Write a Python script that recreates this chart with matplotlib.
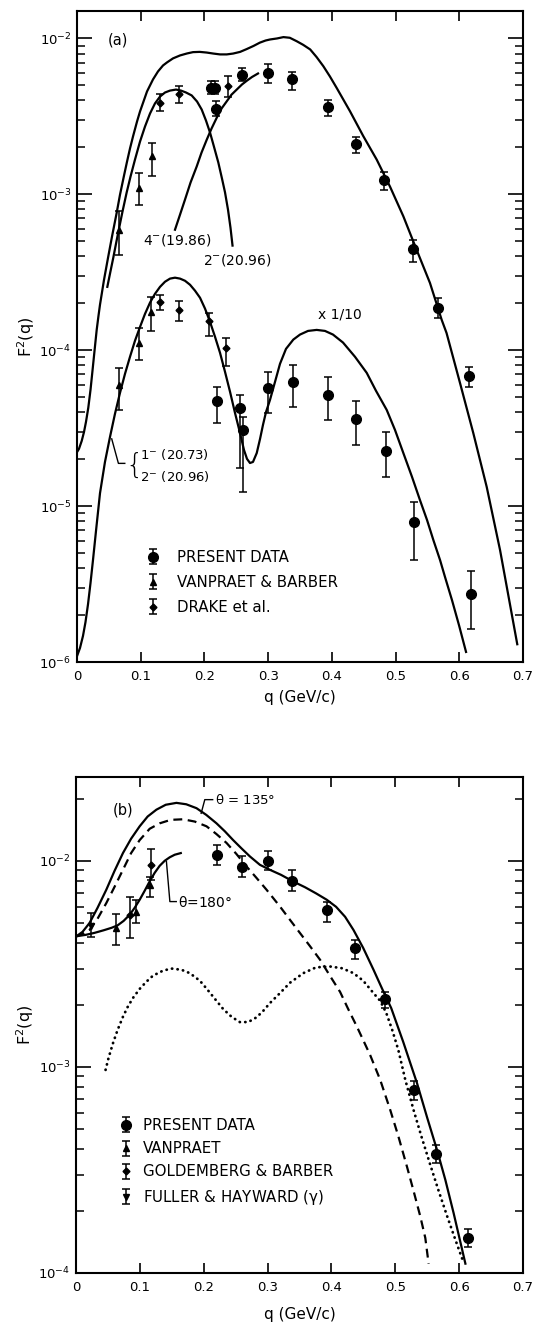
import matplotlib
matplotlib.use("Agg")
import matplotlib.pyplot as plt
import numpy as np

plt.rcParams['font.family'] = ['DejaVu Sans']
plt.rcParams['mathtext.default'] = 'regular'
plt.rcParams['font.size'] = 9.5

# ---------------- panel (a) data ----------------
# present data, upper set
a_pd_q = [0.211, 0.2166, 0.218, 0.2585, 0.300, 0.338, 0.3935, 0.4375, 0.482, 0.528, 0.567, 0.6158]
a_pd_v = [4.82e-3, 4.82e-3, 3.54e-3, 5.87e-3, 6.02e-3, 5.46e-3, 3.62e-3, 2.11e-3, 1.24e-3, 4.45e-4, 1.86e-4, 6.85e-5]
a_pd_hi = [5.32e-3, 5.32e-3, 3.95e-3, 6.49e-3, 6.81e-3, 6.08e-3, 4.02e-3, 2.34e-3, 1.40e-3, 5.1e-4, 2.17e-4, 7.8e-5]
a_pd_lo = [4.37e-3, 4.37e-3, 3.17e-3, 5.32e-3, 5.19e-3, 4.70e-3, 3.20e-3, 1.83e-3, 1.06e-3, 3.7e-4, 1.61e-4, 5.8e-5]
# present data, lower set (x 1/10)
a_pd2_q = [0.219, 0.2558, 0.260, 0.3003, 0.3395, 0.3945, 0.4379, 0.485, 0.5295, 0.618]
a_pd2_v = [4.7e-5, 4.25e-5, 3.08e-5, 5.7e-5, 6.24e-5, 5.17e-5, 3.62e-5, 2.27e-5, 7.87e-6, 2.75e-6]
a_pd2_hi = [5.85e-5, 5.18e-5, 3.75e-5, 7.3e-5, 8.05e-5, 6.7e-5, 4.73e-5, 2.97e-5, 1.07e-5, 3.83e-6]
a_pd2_lo = [3.4e-5, 1.75e-5, 1.24e-5, 3.95e-5, 4.3e-5, 3.57e-5, 2.47e-5, 1.53e-5, 4.5e-6, 1.62e-6]
# Vanpraet & Barber (triangles)
a_vb_q = [0.066, 0.098, 0.117, 0.0664, 0.098, 0.116]
a_vb_v = [5.93e-4, 1.1e-3, 1.76e-3, 6.0e-5, 1.11e-4, 1.77e-4]
a_vb_hi = [7.78e-4, 1.37e-3, 2.14e-3, 7.67e-5, 1.39e-4, 2.21e-4]
a_vb_lo = [4.1e-4, 8.6e-4, 1.31e-3, 4.14e-5, 8.7e-5, 1.32e-4]
# Drake et al. (diamonds)
a_dr_q = [0.131, 0.160, 0.2365, 0.131, 0.160, 0.207, 0.2333]
a_dr_v = [3.86e-3, 4.37e-3, 4.94e-3, 2.03e-4, 1.82e-4, 1.53e-4, 1.03e-4]
a_dr_hi = [4.37e-3, 4.94e-3, 5.73e-3, 2.27e-4, 2.07e-4, 1.73e-4, 1.19e-4]
a_dr_lo = [3.41e-3, 3.86e-3, 4.23e-3, 1.8e-4, 1.53e-4, 1.23e-4, 7.9e-5]

# curves panel (a)
a_sum_q = [0.0, 0.0031, 0.0074, 0.011, 0.0141, 0.0177, 0.0212, 0.0243, 0.0275, 0.0309, 0.0337, 0.0361,
           0.0424, 0.0487, 0.0549, 0.0623, 0.0675, 0.0738, 0.0785, 0.0832, 0.0879, 0.0942, 0.0989, 0.1099,
           0.1193, 0.1271, 0.135, 0.1413, 0.1507, 0.1617, 0.1726, 0.1821, 0.1926, 0.2035, 0.214, 0.2245,
           0.235, 0.245, 0.256, 0.2664, 0.277, 0.287, 0.296, 0.303, 0.314, 0.324, 0.334, 0.3448, 0.355,
           0.366, 0.376, 0.3866, 0.397, 0.4075, 0.4285, 0.4494, 0.4704, 0.4913, 0.5122, 0.533, 0.554,
           0.5723, 0.580, 0.6012, 0.622, 0.643, 0.664, 0.691]
a_sum_v = [2.22e-5, 2.33e-5, 2.62e-5, 2.99e-5, 3.47e-5, 4.27e-5, 5.57e-5, 7.38e-5, 9.91e-5, 1.35e-4, 1.66e-4,
           1.96e-4, 2.83e-4, 3.92e-4, 5.35e-4, 7.62e-4, 9.95e-4, 1.32e-3, 1.62e-3, 1.97e-3, 2.35e-3, 2.93e-3,
           3.4e-3, 4.57e-3, 5.46e-3, 6.14e-3, 6.71e-3, 7.02e-3, 7.45e-3, 7.78e-3, 8.01e-3, 8.17e-3, 8.2e-3,
           8.12e-3, 8.0e-3, 7.9e-3, 7.9e-3, 8.0e-3, 8.2e-3, 8.55e-3, 8.95e-3, 9.4e-3, 9.7e-3, 9.85e-3, 1.0e-2,
           1.02e-2, 1.01e-2, 9.6e-3, 9.1e-3, 8.5e-3, 7.6e-3, 6.64e-3, 5.7e-3, 4.82e-3, 3.41e-3, 2.36e-3,
           1.67e-3, 1.12e-3, 7.23e-4, 4.41e-4, 2.7e-4, 1.57e-4, 1.29e-4, 6.15e-5, 2.94e-5, 1.33e-5, 5.22e-6,
           1.3e-6]
a_2m_q = [0.0476, 0.0518, 0.057, 0.0612, 0.0659, 0.0714, 0.078, 0.084, 0.091, 0.0989, 0.1067, 0.1146,
          0.1224, 0.1303, 0.1381, 0.146, 0.1554, 0.1632, 0.1711, 0.18, 0.1884, 0.1957, 0.2025, 0.2088,
          0.215, 0.2218, 0.2276, 0.2323, 0.237, 0.2409, 0.2441]
a_2m_v = [2.55e-4, 3.1e-4, 3.93e-4, 4.82e-4, 6.02e-4, 7.75e-4, 1.03e-3, 1.3e-3, 1.67e-3, 2.18e-3, 2.72e-3,
          3.3e-3, 3.83e-3, 4.24e-3, 4.5e-3, 4.63e-3, 4.7e-3, 4.63e-3, 4.5e-3, 4.31e-3, 3.94e-3, 3.5e-3,
          2.97e-3, 2.49e-3, 2.02e-3, 1.6e-3, 1.26e-3, 1.03e-3, 7.97e-4, 6.11e-4, 4.69e-4]
a_4m_q = [0.1538, 0.1617, 0.1695, 0.1782, 0.1879, 0.1954, 0.2036, 0.2111, 0.2193, 0.2268, 0.235, 0.2425,
          0.2507, 0.259, 0.2669, 0.2747, 0.2841]
a_4m_v = [5.93e-4, 7.41e-4, 9.25e-4, 1.19e-3, 1.51e-3, 1.85e-3, 2.24e-3, 2.64e-3, 3.1e-3, 3.55e-3, 3.95e-3,
          4.36e-3, 4.7e-3, 5.07e-3, 5.37e-3, 5.66e-3, 5.96e-3]
a_low_q = [0.0, 0.0047, 0.0094, 0.0133, 0.0173, 0.0212, 0.0251, 0.0298, 0.0361, 0.0439, 0.0518, 0.0596,
           0.0675, 0.0753, 0.0832, 0.091, 0.0989, 0.1067, 0.1146, 0.1224, 0.1303, 0.1381, 0.146, 0.1538,
           0.1617, 0.1695, 0.1774, 0.1852, 0.1931, 0.2009, 0.2088, 0.2166, 0.2245, 0.2323, 0.2402, 0.248,
           0.2558, 0.2621, 0.2668, 0.2715, 0.2762, 0.2821, 0.2873, 0.2919, 0.2967, 0.3029, 0.3108, 0.3186,
           0.328, 0.3395, 0.35, 0.3626, 0.3762, 0.3892, 0.4018, 0.4175, 0.4363, 0.4547, 0.4693, 0.4861,
           0.4991, 0.5122, 0.5258, 0.5384, 0.5494, 0.5593, 0.5698, 0.5776, 0.5886, 0.5996, 0.6106]
a_low_v = [1.09e-6, 1.23e-6, 1.47e-6, 1.8e-6, 2.35e-6, 3.21e-6, 4.51e-6, 6.92e-6, 1.21e-5, 1.92e-5, 2.78e-5,
           3.91e-5, 5.33e-5, 7.05e-5, 9.08e-5, 1.15e-4, 1.41e-4, 1.71e-4, 2.02e-4, 2.3e-4, 2.55e-4, 2.75e-4,
           2.88e-4, 2.92e-4, 2.88e-4, 2.79e-4, 2.63e-4, 2.41e-4, 2.17e-4, 1.85e-4, 1.52e-4, 1.22e-4, 9.62e-5,
           7.27e-5, 5.41e-5, 3.96e-5, 2.95e-5, 2.29e-5, 2.01e-5, 1.89e-5, 1.92e-5, 2.19e-5, 2.7e-5, 3.32e-5,
           4.02e-5, 4.8e-5, 6.27e-5, 8.18e-5, 1.02e-4, 1.17e-4, 1.26e-4, 1.33e-4, 1.35e-4, 1.33e-4, 1.26e-4,
           1.12e-4, 9.08e-5, 7.16e-5, 5.49e-5, 4.14e-5, 3.08e-5, 2.19e-5, 1.54e-5, 1.09e-5, 8.14e-6, 6.06e-6,
           4.51e-6, 3.51e-6, 2.49e-6, 1.72e-6, 1.16e-6]

# ---------------- panel (b) data ----------------
b_pd_q = [0.221, 0.2593, 0.301, 0.3387, 0.3937, 0.437, 0.4842, 0.5287, 0.5643, 0.6135]
b_pd_v = [1.07e-2, 9.38e-3, 1.0e-2, 7.94e-3, 5.78e-3, 3.77e-3, 2.13e-3, 7.73e-4, 3.79e-4, 1.48e-4]
b_pd_hi = [1.196e-2, 1.05e-2, 1.11e-2, 9.04e-3, 6.34e-3, 4.14e-3, 2.32e-3, 8.52e-4, 4.18e-4, 1.64e-4]
b_pd_lo = [9.56e-3, 8.39e-3, 9.04e-3, 7.1e-3, 5.02e-3, 3.34e-3, 1.93e-3, 6.9e-4, 3.4e-4, 1.33e-4]
b_vp_q = [0.063, 0.0945, 0.1154]
b_vp_v = [4.71e-3, 5.67e-3, 7.65e-3]
b_vp_hi = [5.53e-3, 6.46e-3, 8.33e-3]
b_vp_lo = [3.91e-3, 4.98e-3, 6.71e-3]
b_gb_q = [0.085, 0.117]
b_gb_v = [5.47e-3, 9.56e-3]
b_gb_hi = [6.71e-3, 1.14e-2]
b_gb_lo = [4.22e-3, 8.09e-3]
b_fh_q = [0.0239]
b_fh_v = [4.8e-3]
b_fh_hi = [5.61e-3]
b_fh_lo = [4.29e-3]

b_135_q = [0.0, 0.0102, 0.0212, 0.0337, 0.0474, 0.0604, 0.0735, 0.0863, 0.0997, 0.1122, 0.1259, 0.1405,
           0.1573, 0.1727, 0.1887, 0.204, 0.22, 0.2331, 0.2461, 0.259, 0.2723, 0.288, 0.3037, 0.321, 0.3403,
           0.3587, 0.3759, 0.3927, 0.4073, 0.4214, 0.4345, 0.4497, 0.4659, 0.4795, 0.4936, 0.5125, 0.534,
           0.5501, 0.5654, 0.5784, 0.5914, 0.6004, 0.6098]
b_135_v = [4.29e-3, 4.52e-3, 4.99e-3, 5.91e-3, 7.23e-3, 8.94e-3, 1.09e-2, 1.28e-2, 1.47e-2, 1.64e-2, 1.77e-2,
           1.87e-2, 1.91e-2, 1.88e-2, 1.8e-2, 1.67e-2, 1.52e-2, 1.39e-2, 1.26e-2, 1.15e-2, 1.05e-2, 9.56e-3,
           9.04e-3, 8.55e-3, 7.93e-3, 7.44e-3, 6.95e-3, 6.47e-3, 5.98e-3, 5.35e-3, 4.62e-3, 3.78e-3, 2.96e-3,
           2.39e-3, 1.93e-3, 1.32e-3, 8.34e-4, 5.65e-4, 3.95e-4, 2.83e-4, 1.95e-4, 1.48e-4, 1.11e-4]
b_dash_q = [0.0, 0.0102, 0.0212, 0.0337, 0.0474, 0.0604, 0.0735, 0.0863, 0.0997, 0.1154, 0.1311, 0.1483,
            0.1676, 0.186, 0.2044, 0.2197, 0.2358, 0.2511, 0.2671, 0.2825, 0.2985, 0.3194, 0.3351, 0.3508,
            0.3665, 0.3822, 0.3979, 0.4136, 0.4262, 0.4398, 0.4497, 0.4607, 0.4764, 0.4921, 0.5047, 0.5183,
            0.5282, 0.5392, 0.547, 0.5522]
b_dash_v = [4.29e-3, 4.42e-3, 4.62e-3, 5.23e-3, 6.23e-3, 7.48e-3, 9.04e-3, 1.09e-2, 1.26e-2, 1.43e-2, 1.52e-2,
            1.58e-2, 1.59e-2, 1.55e-2, 1.47e-2, 1.35e-2, 1.22e-2, 1.08e-2, 9.38e-3, 8.27e-3, 7.23e-3, 6.0e-3,
            5.17e-3, 4.46e-3, 3.85e-3, 3.31e-3, 2.76e-3, 2.31e-3, 1.91e-3, 1.57e-3, 1.35e-3, 1.14e-3, 8.65e-4,
            6.18e-4, 4.62e-4, 3.28e-4, 2.53e-4, 1.88e-4, 1.48e-4, 1.11e-4]
b_180_q = [0.0, 0.0149, 0.029, 0.0432, 0.0557, 0.0651, 0.0746, 0.084, 0.0918, 0.0997, 0.1075, 0.1154,
           0.1232, 0.1311, 0.1389, 0.1468, 0.1546, 0.1641]
b_180_v = [4.3e-3, 4.37e-3, 4.47e-3, 4.6e-3, 4.73e-3, 4.86e-3, 5.11e-3, 5.47e-3, 5.91e-3, 6.47e-3, 7.15e-3,
           7.95e-3, 8.74e-3, 9.46e-3, 1.0e-2, 1.04e-2, 1.07e-2, 1.09e-2]
b_dot_q = [0.0463, 0.051, 0.0578, 0.0651, 0.0735, 0.0808, 0.0892, 0.0997, 0.1102, 0.1205, 0.1362, 0.1494,
           0.1651, 0.1782, 0.1939, 0.2044, 0.2174, 0.2304, 0.2436, 0.2566, 0.2697, 0.2828, 0.2932, 0.3037,
           0.3194, 0.3351, 0.356, 0.3759, 0.3979, 0.4167, 0.4345, 0.4497, 0.4659, 0.4764, 0.4858, 0.4952,
           0.5047, 0.5157, 0.5286, 0.5407, 0.5549, 0.5674, 0.5811, 0.5941, 0.6071]
b_dot_v = [9.67e-4, 1.106e-3, 1.30e-3, 1.51e-3, 1.75e-3, 1.95e-3, 2.16e-3, 2.39e-3, 2.59e-3, 2.77e-3, 2.93e-3,
           3.0e-3, 2.96e-3, 2.85e-3, 2.62e-3, 2.40e-3, 2.14e-3, 1.91e-3, 1.75e-3, 1.65e-3, 1.65e-3, 1.74e-3,
           1.87e-3, 2.04e-3, 2.28e-3, 2.56e-3, 2.85e-3, 3.04e-3, 3.07e-3, 3.01e-3, 2.85e-3, 2.62e-3, 2.28e-3,
           2.09e-3, 1.83e-3, 1.51e-3, 1.21e-3, 8.65e-4, 6.18e-4, 4.62e-4, 3.34e-4, 2.53e-4, 1.89e-4, 1.45e-4,
           1.12e-4]

xticks = [0, 0.1, 0.2, 0.3, 0.4, 0.5, 0.6, 0.7]
xticklabels = ['0', '0.1', '0.2', '0.3', '0.4', '0.5', '0.6', '0.7']

fig = plt.figure(figsize=(5.36, 13.22), dpi=100)
ax1 = fig.add_axes([77/536, 1-662/1322, 446/536, 651/1322])
ax2 = fig.add_axes([76/536, 1-1273/1322, 447/536, 496/1322])

LW = 1.6
EB = dict(color='k', capsize=3, elinewidth=1.1, capthick=1.1, linestyle='none')
FS = 10
LEGFS = 10.8


def yerr(v, lo, hi):
    v = np.array(v); lo = np.array(lo); hi = np.array(hi)
    return [v - lo, hi - v]


def style(ax, ylim, xpad):
    ax.set_yscale('log')
    ax.set_xlim(0, 0.7)
    ax.set_ylim(*ylim)
    ax.set_xticks(xticks)
    ax.set_xticklabels(xticklabels)
    ax.tick_params(axis='x', which='major', direction='in', top=True, bottom=True, length=7.5, width=1.2, pad=6)
    ax.tick_params(axis='y', which='major', direction='in', left=True, right=True, length=11, width=1.2, pad=4)
    ax.tick_params(axis='y', which='minor', direction='in', left=True, right=True, length=6, width=1.1)
    ax.tick_params(axis='x', which='minor', bottom=False, top=False)
    for s in ax.spines.values():
        s.set_linewidth(1.5)
    ax.set_xlabel('q (GeV/c)', labelpad=xpad, fontsize=11)
    ax.set_ylabel('F$^2$(q)', labelpad=2, fontsize=11.5)


# ---- panel (a)
ax = ax1
ax.plot(a_sum_q, a_sum_v, color='k', lw=LW)
ax.plot(a_2m_q, a_2m_v, color='k', lw=LW)
ax.plot(a_4m_q, a_4m_v, color='k', lw=LW)
ax.plot(a_low_q, a_low_v, color='k', lw=LW)
h1 = ax.errorbar(a_pd_q, a_pd_v, yerr=yerr(a_pd_v, a_pd_lo, a_pd_hi), marker='o', ms=7, **EB)
ax.errorbar(a_pd2_q, a_pd2_v, yerr=yerr(a_pd2_v, a_pd2_lo, a_pd2_hi), marker='o', ms=7, **EB)
h2 = ax.errorbar(a_vb_q, a_vb_v, yerr=yerr(a_vb_v, a_vb_lo, a_vb_hi), marker='^', ms=4.5, **EB)
h3 = ax.errorbar(a_dr_q, a_dr_v, yerr=yerr(a_dr_v, a_dr_lo, a_dr_hi), marker='D', ms=3.5, **EB)
style(ax, (1e-6, 1.5e-2), 5)
ax.text(0.048, 9.8e-3, '(a)', ha='left', va='center', fontsize=10.5)
ax.text(0.157, 5.1e-4, '4$^{-}$(19.86)', ha='center', va='center', fontsize=FS)
ax.text(0.197, 3.8e-4, '2$^{-}$(20.96)', ha='left', va='center', fontsize=FS)
ax.text(0.378, 1.69e-4, 'x 1/10', ha='left', va='center', fontsize=FS)
ax.plot([0.0545, 0.065, 0.075], [2.7e-5, 1.88e-5, 1.88e-5], color='k', lw=1.0)
ax.text(0.076, 1.8e-5, '{', ha='left', va='center', fontsize=20, fontweight='light')
ax.text(0.099, 2.13e-5, '1$^{-}$ (20.73)', ha='left', va='center', fontsize=9.5)
ax.text(0.099, 1.54e-5, '2$^{-}$ (20.96)', ha='left', va='center', fontsize=9.5)
ax.legend([h1, h2, h3], ['PRESENT DATA', 'VANPRAET & BARBER', 'DRAKE et al.'],
          loc='upper left', bbox_to_anchor=(0.157, 0.172), frameon=False, borderpad=0, borderaxespad=0,
          handlelength=0.8, handletextpad=1.18, labelspacing=0.66, fontsize=LEGFS)

# ---- panel (b)
ax = ax2
ax.plot(b_135_q, b_135_v, color='k', lw=LW)
ax.plot(b_dash_q, b_dash_v, color='k', lw=LW, linestyle=(0, (4, 2.5)))
ax.plot(b_180_q, b_180_v, color='k', lw=LW)
ax.plot(b_dot_q, b_dot_v, color='k', lw=2.0, linestyle=(0, (0.1, 1.9)), dash_capstyle='round')
g1 = ax.errorbar(b_pd_q, b_pd_v, yerr=yerr(b_pd_v, b_pd_lo, b_pd_hi), marker='o', ms=7, **EB)
g2 = ax.errorbar(b_vp_q, b_vp_v, yerr=yerr(b_vp_v, b_vp_lo, b_vp_hi), marker='^', ms=4.5, **EB)
g3 = ax.errorbar(b_gb_q, b_gb_v, yerr=yerr(b_gb_v, b_gb_lo, b_gb_hi), marker='D', ms=3.5, **EB)
g4 = ax.errorbar(b_fh_q, b_fh_v, yerr=yerr(b_fh_v, b_fh_lo, b_fh_hi), marker='v', ms=4.5, **EB)
style(ax, (1e-4, 2.55e-2), 9)
ax.text(0.057, 1.77e-2, '(b)', ha='left', va='center', fontsize=10.5)
ax.plot([0.196, 0.2017, 0.214], [1.7e-2, 1.98e-2, 1.98e-2], color='k', lw=1.0)
ax.text(0.217, 1.97e-2, r'$\theta$ = 135°', ha='left', va='center', fontsize=9.5)
ax.plot([0.1416, 0.147, 0.157], [9.92e-3, 6.34e-3, 6.34e-3], color='k', lw=1.0)
ax.text(0.160, 6.3e-3, r'$\theta$=180°', ha='left', va='center', fontsize=FS)
ax.legend([g1, g2, g3, g4], ['PRESENT DATA', 'VANPRAET', 'GOLDEMBERG & BARBER', r'FULLER & HAYWARD ($\gamma$)'],
          loc='upper left', bbox_to_anchor=(0.098, 0.3125), frameon=False, borderpad=0, borderaxespad=0,
          handlelength=0.8, handletextpad=0.75, labelspacing=0.55, fontsize=LEGFS)

fig.savefig('out.png', dpi=100)
